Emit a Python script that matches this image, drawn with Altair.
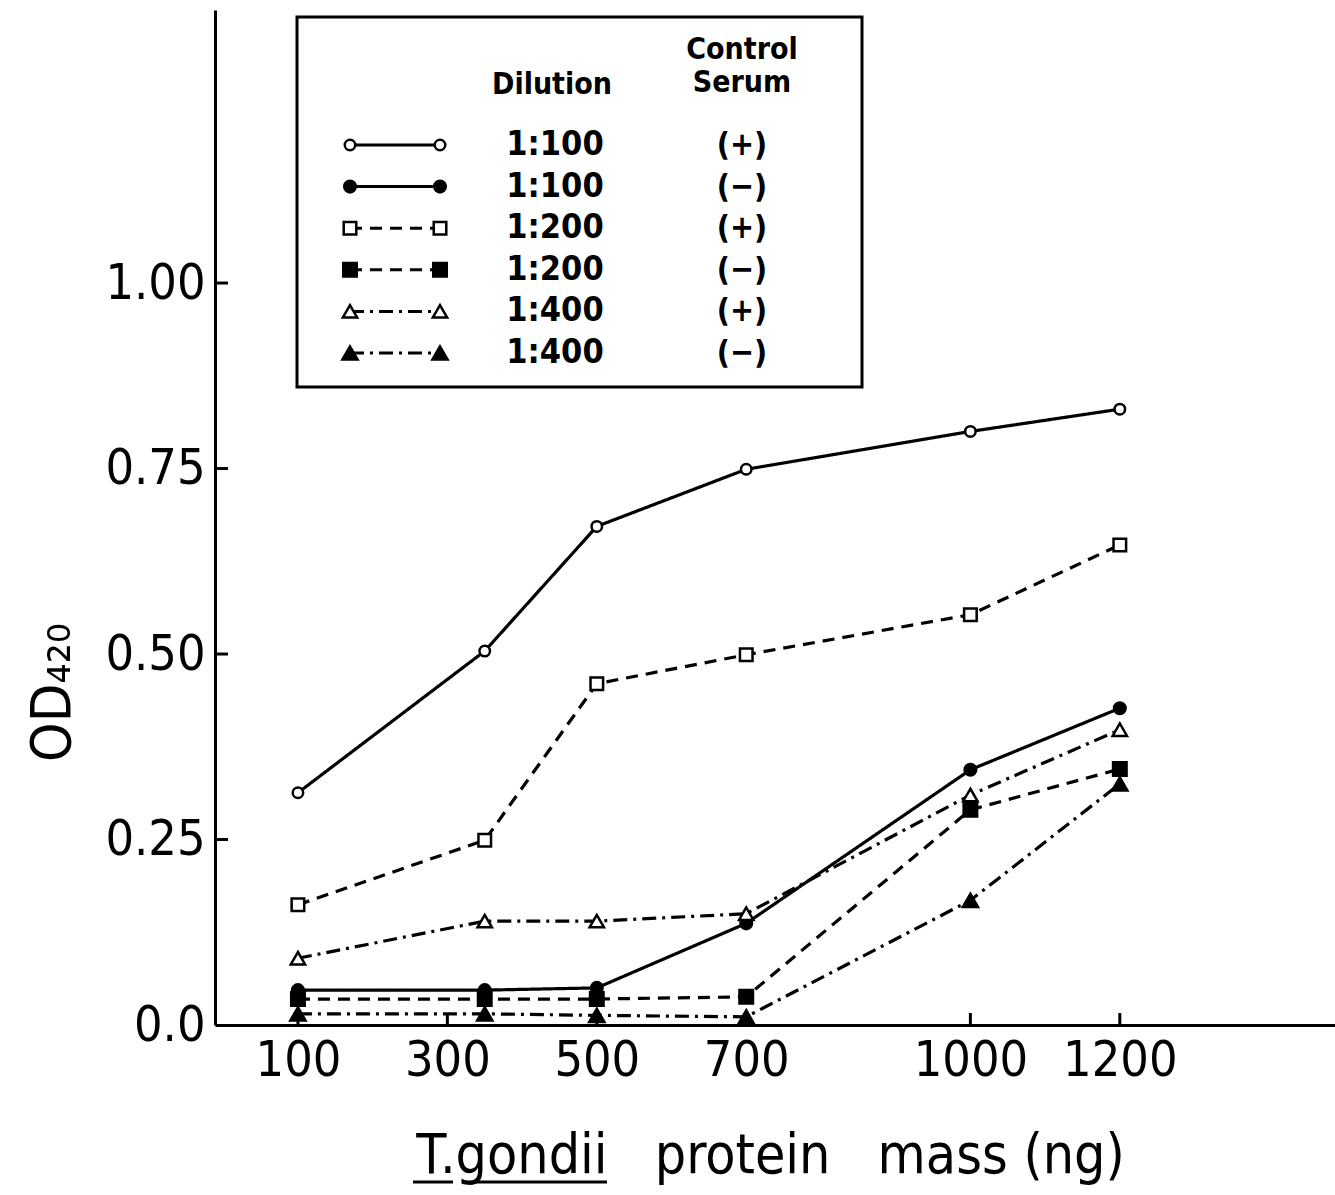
import altair as alt
import pandas as pd

# ---------------- data ----------------
x_mass = [100, 350, 500, 700, 1000, 1200]
series_names = ["1:100 (+)", "1:100 (−)", "1:200 (+)", "1:200 (−)", "1:400 (+)", "1:400 (−)"]
dilutions = ["1:100", "1:100", "1:200", "1:200", "1:400", "1:400"]
serum = ["(+)", "(−)", "(+)", "(−)", "(+)", "(−)"]
od_100_pos = [0.313, 0.504, 0.672, 0.749, 0.800, 0.830]
od_100_neg = [0.047, 0.047, 0.050, 0.137, 0.344, 0.427]
od_200_pos = [0.162, 0.249, 0.460, 0.499, 0.553, 0.647]
od_200_neg = [0.035, 0.035, 0.035, 0.038, 0.290, 0.345]
od_400_pos = [0.090, 0.140, 0.140, 0.150, 0.310, 0.398]
od_400_neg = [0.015, 0.015, 0.013, 0.011, 0.168, 0.325]
x_ticks = [100, 300, 500, 700, 1000, 1200]
y_ticks = [0.0, 0.25, 0.5, 0.75, 1.0]

all_series = [od_100_pos, od_100_neg, od_200_pos, od_200_neg, od_400_pos, od_400_neg]
rows = []
for name, vals in zip(series_names, all_series):
    for xv, yv in zip(x_mass, vals):
        rows.append({"mass": xv, "od": yv, "series": name})
df = pd.DataFrame(rows)

leg_df = pd.DataFrame({"series": series_names, "dilution": dilutions,
                       "serum": serum, "row": list(range(6))})

FONT = "Liberation Sans Narrow, DejaVu Sans Condensed, Arial Narrow, sans-serif"

x_scale = alt.Scale(domain=[-11, 1488], nice=False, zero=False)
y_scale = alt.Scale(domain=[0, 1.368], nice=False)
leg_y = alt.Scale(domain=[0, 5], range=[135, 343], nice=False, zero=False)

dash_scale = alt.Scale(domain=series_names,
                       range=[[1, 0], [1, 0], [12, 8], [12, 8], [14, 6, 3, 6], [14, 6, 3, 6]])
shape_scale = alt.Scale(domain=series_names,
                        range=["circle", "circle", "square", "square", "triangle-up", "triangle-up"])
fill_scale = alt.Scale(domain=series_names,
                       range=["white", "black", "white", "black", "white", "black"])
size_scale = alt.Scale(domain=series_names, range=[110, 230, 200, 270, 190, 230])

x_axis = alt.Axis(values=x_ticks, ticks=False, grid=False, domainColor="black",
                  domainWidth=3, labelFont=FONT, labelFontSize=50, labelColor="black",
                  labelPadding=10, format="d",
                  title="T.gondii\u00a0\u00a0\u00a0protein\u00a0\u00a0\u00a0mass\u00a0(ng)",
                  titleFont=FONT, titleFontSize=55, titleFontWeight="normal",
                  titleColor="black", titleX=555, titleY=130, titleAlign="center",
                  titleBaseline="middle")
y_axis = alt.Axis(values=y_ticks, ticks=False, grid=False, domainColor="black",
                  domainWidth=3, labelFont=FONT, labelFontSize=50, labelColor="black",
                  labelPadding=10, labelBaseline="middle",
                  labelExpr="datum.value == 0 ? '0.0' : (datum.value == 1 ? '1.00' : format(datum.value, '.2f'))",
                  title="OD₄₂₀", titleFont=FONT, titleFontSize=56,
                  titleFontWeight="normal", titleColor="black", titleX=-163, titleY=682,
                  titleAngle=270, titleAlign="center", titleBaseline="middle")

lines = alt.Chart(df).mark_line(color="black", strokeWidth=3.2).encode(
    x=alt.X("mass:Q", scale=x_scale, axis=x_axis),
    y=alt.Y("od:Q", scale=y_scale, axis=y_axis),
    detail="series:N",
    strokeDash=alt.StrokeDash("series:N", scale=dash_scale, legend=None),
)

points = alt.Chart(df).mark_point(filled=True, stroke="black", strokeWidth=2.5, opacity=1).encode(
    x=alt.X("mass:Q", scale=x_scale, axis=None),
    y=alt.Y("od:Q", scale=y_scale, axis=None),
    shape=alt.Shape("series:N", scale=shape_scale, legend=None),
    fill=alt.Fill("series:N", scale=fill_scale, legend=None),
    size=alt.Size("series:N", scale=size_scale, legend=None),
)

ytick_df = pd.DataFrame({"v": y_ticks[1:]})
yticks = alt.Chart(ytick_df).mark_rule(color="black", strokeWidth=3).encode(
    y=alt.Y("v:Q", scale=y_scale, axis=None), x=alt.value(0), x2=alt.value(13))
xtick_df = pd.DataFrame({"v": x_ticks})
xticks = alt.Chart(xtick_df).mark_rule(color="black", strokeWidth=3).encode(
    x=alt.X("v:Q", scale=x_scale, axis=None), y=alt.value(1015), y2=alt.value(1003))

one = pd.DataFrame({"a": [0]})
# legend box
leg_box = alt.Chart(one).mark_rect(fill="white", stroke="black", strokeWidth=3).encode(
    x=alt.value(82), x2=alt.value(647), y=alt.value(7), y2=alt.value(377))
leg_lines = alt.Chart(leg_df).mark_rule(color="black", strokeWidth=3).encode(
    x=alt.value(135), x2=alt.value(225),
    y=alt.Y("row:Q", scale=leg_y, axis=None),
    strokeDash=alt.StrokeDash("series:N", scale=dash_scale, legend=None))
leg_pts = []
for xv in (135, 225):
    leg_pts.append(alt.Chart(leg_df).mark_point(filled=True, stroke="black", strokeWidth=2.5, opacity=1).encode(
        x=alt.value(xv),
        y=alt.Y("row:Q", scale=leg_y, axis=None),
        shape=alt.Shape("series:N", scale=shape_scale, legend=None),
        fill=alt.Fill("series:N", scale=fill_scale, legend=None),
        size=alt.Size("series:N", scale=size_scale, legend=None)))
leg_dil = alt.Chart(leg_df).mark_text(font=FONT, fontSize=34, fontWeight="bold",
                                      color="black", align="center", baseline="middle").encode(
    x=alt.value(340), y=alt.Y("row:Q", scale=leg_y, axis=None), text="dilution:N")
leg_ser = alt.Chart(leg_df).mark_text(font=FONT, fontSize=32, fontWeight="bold",
                                      color="black", align="center", baseline="middle").encode(
    x=alt.value(527), y=alt.Y("row:Q", scale=leg_y, axis=None), text="serum:N")
hdr_style = dict(font=FONT, fontSize=30, fontWeight="bold", color="black",
                 align="center", baseline="middle")
hdr1 = alt.Chart(one).mark_text(**hdr_style).encode(
    x=alt.value(337), y=alt.value(75), text=alt.value("Dilution"))
hdr2 = alt.Chart(one).mark_text(**hdr_style).encode(
    x=alt.value(527), y=alt.value(40), text=alt.value("Control"))
hdr3 = alt.Chart(one).mark_text(**hdr_style).encode(
    x=alt.value(527), y=alt.value(73), text=alt.value("Serum"))

# underline of the genus name in the x title
ul1 = alt.Chart(one).mark_rule(color="black", strokeWidth=3).encode(
    x=alt.value(198), x2=alt.value(238), y=alt.value(1172))
ul2 = alt.Chart(one).mark_rule(color="black", strokeWidth=3).encode(
    x=alt.value(250), x2=alt.value(392), y=alt.value(1172))

chart = alt.layer(
    lines, points, yticks, xticks,
    leg_box, leg_lines, leg_pts[0], leg_pts[1], leg_dil, leg_ser, hdr1, hdr2, hdr3,
    ul1, ul2,
).resolve_scale(x="independent", y="independent").properties(
    width=1120, height=1015,
    autosize=alt.AutoSizeParams(type="none"),
    padding={"left": 215, "top": 10, "right": 0, "bottom": 170},
    background="white",
).configure_view(stroke=None)

chart.save("out.html", embed_options={"renderer": "svg", "actions": False})
